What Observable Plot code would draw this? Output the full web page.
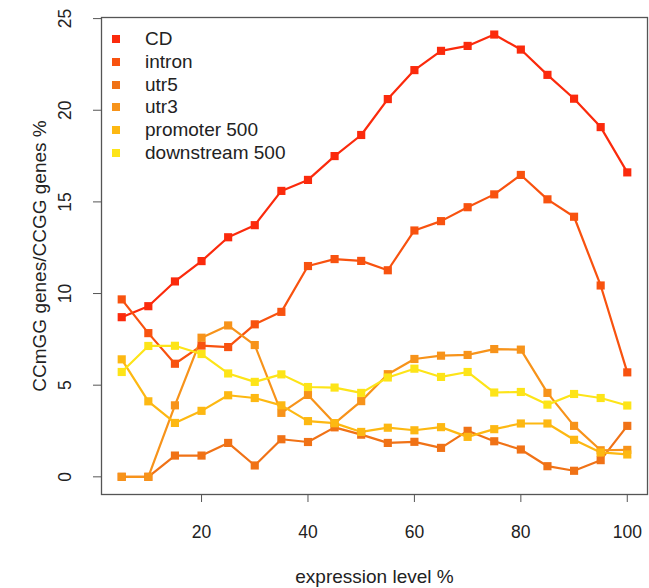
<!DOCTYPE html>
<html>
<head>
<meta charset="utf-8">
<script src="https://cdn.jsdelivr.net/npm/d3@7"></script>
<script src="https://cdn.jsdelivr.net/npm/@observablehq/plot@0.6"></script>
<style>
  html, body { margin: 0; padding: 0; background: #fff; }
  #wrap { position: relative; width: 649px; height: 588px; font-family: "Liberation Sans", Arial, sans-serif; }
  #legend { position: absolute; left: 112px; top: 28px; font-size: 19px; color: #222; }
  #legend .row { display: flex; align-items: center; height: 22.7px; }
  #legend .sw { width: 8px; height: 8px; margin-right: 25px; }
</style>
</head>
<body>
<div id="wrap"></div>
<script>
const level = [5,10,15,20,25,30,35,40,45,50,55,60,65,70,75,80,85,90,95,100];
const seriesNames = ["CD","intron","utr5","utr3","promoter 500","downstream 500"];
const seriesColors = ["#fb2a0c","#f8520f","#f07216","#f7931a","#fdb812","#fde418"];
const CD       = [8.71,9.31,10.66,11.77,13.07,13.73,15.6,16.2,17.5,18.65,20.61,22.19,23.24,23.51,24.13,23.31,21.93,20.63,19.08,16.61];
const intron   = [9.68,7.84,6.17,7.16,7.08,8.32,9.0,11.5,11.88,11.78,11.27,13.44,13.95,14.71,15.41,16.47,15.14,14.19,10.44,5.70];
const utr5     = [0,0,1.16,1.16,1.85,0.62,2.05,1.9,2.7,2.3,1.85,1.91,1.58,2.51,1.94,1.49,0.58,0.33,0.91,2.78];
const utr3     = [0,0,3.9,7.59,8.26,7.19,3.49,4.47,2.92,4.13,5.6,6.43,6.61,6.65,6.97,6.94,4.58,2.78,1.45,1.47];
const promoter = [6.41,4.12,2.94,3.6,4.45,4.3,3.9,3.04,2.93,2.45,2.68,2.54,2.71,2.18,2.6,2.91,2.91,2.02,1.33,1.22];
const downstream = [5.72,7.14,7.15,6.7,5.64,5.18,5.59,4.9,4.87,4.58,5.42,5.9,5.45,5.72,4.6,4.63,3.94,4.52,4.3,3.89];
const xTicks = [20,40,60,80,100];
const yTicks = [0,5,10,15,20,25];

const valuesBySeries = [CD, intron, utr5, utr3, promoter, downstream];
const rows = [];
seriesNames.forEach((name, i) => {
  level.forEach((lv, j) => rows.push({series: name, level: lv, value: valuesBySeries[i][j]}));
});

const color = {domain: seriesNames, range: seriesColors};
const font = "Liberation Sans, Arial, sans-serif";

const chart = Plot.plot({
  width: 649,
  height: 588,
  marginLeft: 101,
  marginRight: 2,
  marginTop: 17,
  marginBottom: 94,
  style: {fontFamily: font, fontSize: "17.5px", color: "#222", background: "#fff"},
  x: {domain: [1.2, 103.8]},
  y: {domain: [-0.964, 25.06]},
  color,
  marks: [
    Plot.frame({stroke: "#555", strokeWidth: 1.3}),
    Plot.axisX({ticks: xTicks, tickSize: 8, tickPadding: 23, label: null, stroke: "#555", fontSize: "17.5px", tickFormat: d => String(d)}),
    Plot.axisY({ticks: yTicks, tickSize: 8, label: null, stroke: "#555", text: null}),
    Plot.text(yTicks, {y: d => d, frameAnchor: "left", dx: -36, rotate: -90, textAnchor: "middle", text: d => String(d), fontSize: 17.5, fill: "#222"}),
    Plot.line(rows, {x: "level", y: "value", z: "series", stroke: "series", strokeWidth: 2.2}),
    Plot.dot(rows, {x: "level", y: "value", fill: "series", symbol: "square", r: 4.6, stroke: null}),
    Plot.text(["CCmGG genes/CCGG genes %"], {frameAnchor: "left", dx: -62, rotate: -90, textAnchor: "middle", text: d => d, fontSize: 19, fill: "#222"}),
    Plot.text(["expression level %"], {frameAnchor: "bottom", dy: 88, text: d => d, fontSize: 19, fill: "#222"})
  ]
});

const wrap = document.getElementById("wrap");
wrap.appendChild(chart);
const legend = document.createElement("div");
legend.id = "legend";
seriesNames.forEach((name, i) => {
  const row = document.createElement("div");
  row.className = "row";
  const sw = document.createElement("span");
  sw.className = "sw";
  sw.style.background = seriesColors[i];
  const t = document.createElement("span");
  t.textContent = name;
  row.appendChild(sw);
  row.appendChild(t);
  legend.appendChild(row);
});
wrap.appendChild(legend);
</script>
</body>
</html>
